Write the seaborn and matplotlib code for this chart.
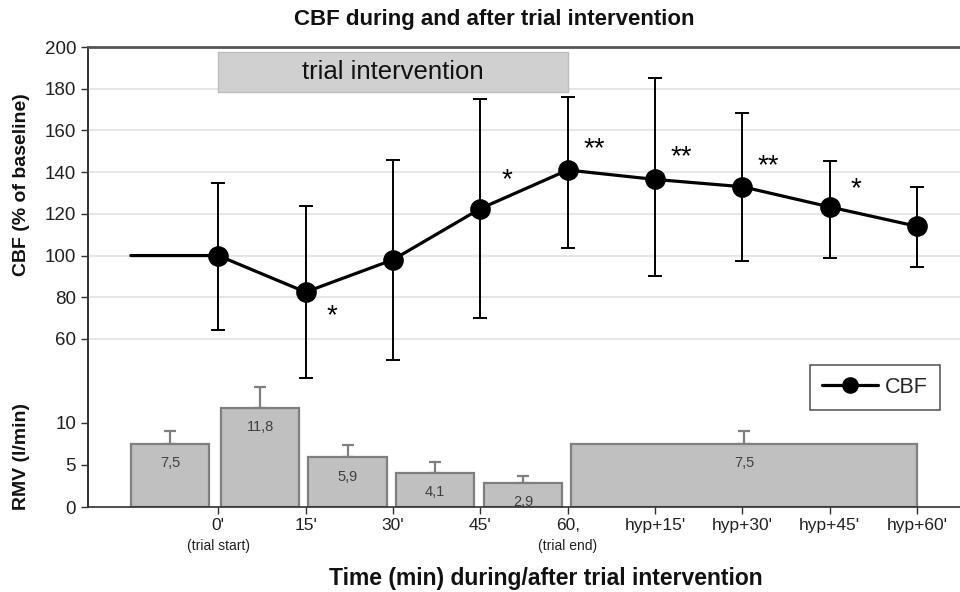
import matplotlib
matplotlib.use("Agg")
import matplotlib.pyplot as plt
import seaborn as sns
import numpy as np
import pandas as pd
from matplotlib.lines import Line2D

# ---------------- data ----------------
tick_labels = ["0'", "15'", "30'", "45'", "60,", "hyp+15'", "hyp+30'", "hyp+45'", "hyp+60'"]
tick_sublabels = {0: "(trial start)", 4: "(trial end)"}

cbf_x = [0, 1, 2, 3, 4, 5, 6, 7, 8]
cbf_mean = [100, 82.5, 98, 122.5, 141, 136.5, 133, 123.3, 114]
cbf_upper = [135, 124, 146, 175, 176, 185, 168.5, 145.5, 133]
cbf_lower = [64.5, 41.5, 50, 70, 103.5, 90, 97.5, 99, 94.5]
baseline_x = -1
baseline_cbf = 100

sig_x = [1, 3, 4, 5, 6, 7]
sig_labels = ["*", "*", "**", "**", "**", "*"]
sig_y = [71, 136, 151, 147, 143, 132]

rmv_center = [-0.55, 0.48, 1.48, 2.48, 3.49, 6.02]
rmv_width = [0.9, 0.9, 0.9, 0.9, 0.9, 3.96]
rmv_values = [7.5, 11.8, 5.9, 4.1, 2.9, 7.5]
rmv_err = [1.55, 2.5, 1.5, 1.25, 0.8, 1.55]
rmv_labels = ["7,5", "11,8", "5,9", "4,1", "2,9", "7,5"]

cbf_ticks = [60, 80, 100, 120, 140, 160, 180, 200]
rmv_ticks = [0, 5, 10]

intervention_start, intervention_end = 0, 4
intervention_ylo, intervention_yhi = 178.5, 197.5

# ---------------- style ----------------
sns.set_theme(style="white")
plt.rcParams['font.family'] = ['Liberation Sans', 'DejaVu Sans']

fig = plt.figure(figsize=(9.6, 5.92), dpi=100)
pos = [88 / 960, 1 - 507 / 592, (960 - 88) / 960, (507 - 47) / 592]
xlim = (-1.49, 8.49)

# RMV axes (bottom layer)
ax_r = fig.add_axes(pos)
ax_r.set_xlim(*xlim)
ax_r.set_ylim(0, 54.76)
bar_face = "#c0c0c0"
bar_edge = "#7f7f7f"
ax_r.bar(rmv_center, rmv_values, width=rmv_width, color=bar_face,
         edgecolor=bar_edge, linewidth=1.6, zorder=2)
ax_r.errorbar(rmv_center, rmv_values, yerr=[np.zeros(len(rmv_err)), rmv_err],
              fmt="none", ecolor=bar_edge, elinewidth=1.6, capsize=4, capthick=1.6, zorder=1)
for xc, v, lab in zip(rmv_center, rmv_values, rmv_labels):
    ax_r.annotate(lab, (xc, v), xytext=(0, -14), textcoords="offset points",
                  ha="center", va="center", fontsize=10.5, color="#404040")
ax_r.set_yticks(rmv_ticks)
ax_r.set_xticks(cbf_x)
ax_r.set_xticklabels(tick_labels, fontsize=12.5, color="#202020")
ax_r.tick_params(axis="y", labelsize=13.5, colors="#303030", left=True, length=5, width=1)
ax_r.tick_params(axis="x", bottom=True, length=5, width=1, colors="#303030", pad=3)
for lab in ax_r.get_yticklabels():
    lab.set_color("#202020")
for lab in ax_r.get_xticklabels():
    lab.set_color("#202020")
for s in ["top", "right"]:
    ax_r.spines[s].set_visible(False)
ax_r.spines["bottom"].set_color("#303030")
ax_r.spines["bottom"].set_linewidth(1.2)
ax_r.spines["left"].set_color("#303030")
ax_r.spines["left"].set_linewidth(1.2)
ax_r.grid(False)
for i, sub in tick_sublabels.items():
    ax_r.text(cbf_x[i], -0.085, sub, transform=ax_r.get_xaxis_transform(),
              ha="center", va="center", fontsize=10, color="#202020")

# CBF axes (top layer)
ax = fig.add_axes(pos)
ax.patch.set_visible(False)
ax.set_xlim(*xlim)
ax.set_ylim(-20.55, 200)
ax.set_axisbelow(True)
for yv in cbf_ticks[:-1]:
    ax.axhline(yv, color="#e2e2e2", lw=1.2, zorder=0)

ax.fill_between([intervention_start, intervention_end], intervention_ylo, intervention_yhi,
                color="#d0d0d0", edgecolor="#bdbdbd", lw=1, zorder=1)
ax.text((intervention_start + intervention_end) / 2, (intervention_ylo + intervention_yhi) / 2,
        "trial intervention", ha="center", va="center", fontsize=18.5, color="#111111", zorder=2)

line_df = pd.DataFrame({"x": [baseline_x] + cbf_x, "y": [baseline_cbf] + cbf_mean})
sns.lineplot(data=line_df, x="x", y="y", ax=ax, color="black", lw=2.3,
             sort=False, zorder=3, legend=False)
err = np.array([np.array(cbf_mean) - np.array(cbf_lower), np.array(cbf_upper) - np.array(cbf_mean)])
ax.errorbar(cbf_x, cbf_mean, yerr=err, fmt="none", ecolor="black", elinewidth=1.4,
            capsize=5, capthick=1.4, zorder=3)
pts_df = pd.DataFrame({"x": cbf_x, "y": cbf_mean})
sns.scatterplot(data=pts_df, x="x", y="y", ax=ax, color="black", s=190,
                edgecolor="black", zorder=4, legend=False)

for xs, lab, ys in zip(sig_x, sig_labels, sig_y):
    ax.text(xs + 0.3, ys, lab, ha="center", va="center", fontsize=20, color="black")

ax.set_yticks(cbf_ticks)
ax.tick_params(axis="y", labelsize=13.5, left=True, length=5, width=1, colors="#303030")
for lab in ax.get_yticklabels():
    lab.set_color("#202020")
ax.set_xticks([])
ax.set_xlabel("")
ax.set_ylabel("")
for s in ["right", "bottom"]:
    ax.spines[s].set_visible(False)
ax.spines["top"].set_color("#555555")
ax.spines["top"].set_linewidth(2)
ax.spines["left"].set_color("#303030")
ax.spines["left"].set_linewidth(1.2)

handle = Line2D([0], [0], color="black", lw=2.3, marker="o", markersize=11)
leg = ax.legend([handle], ["CBF"], loc="upper right",
                bbox_to_anchor=((940 - 88) / 872, (507 - 365) / 460),
                fontsize=15.5, frameon=True, fancybox=False, handlelength=2.6,
                borderpad=0.55, handletextpad=0.35, borderaxespad=0)
leg.get_frame().set_edgecolor("#333333")
leg.get_frame().set_linewidth(1.2)

fig.text(494 / 960, 1 - 20 / 592, "CBF during and after trial intervention",
         ha="center", va="center", fontsize=16, fontweight="bold", color="#111111")
fig.text(546 / 960, 1 - 578 / 592, "Time (min) during/after trial intervention",
         ha="center", va="center", fontsize=16.5, fontweight="bold", color="#111111")
fig.text(22 / 960, 1 - 185 / 592, "CBF (% of baseline)", rotation=90,
         ha="center", va="center", fontsize=14, fontweight="bold", color="#111111")
fig.text(22 / 960, 1 - 456 / 592, "RMV (l/min)", rotation=90,
         ha="center", va="center", fontsize=14, fontweight="bold", color="#111111")

fig.savefig("out.png", dpi=100)
